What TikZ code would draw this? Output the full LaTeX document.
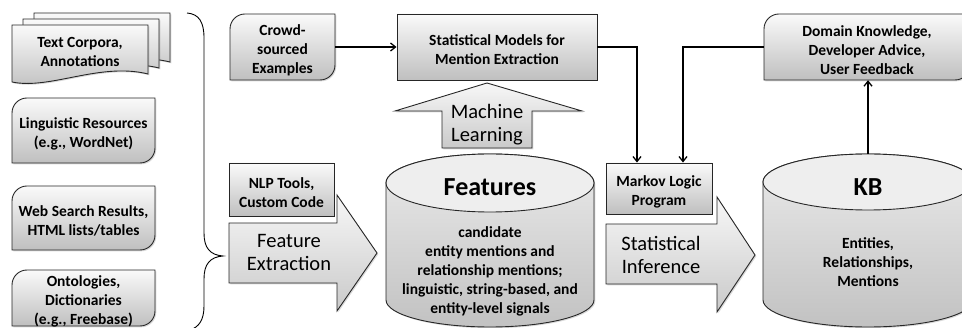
\documentclass[tikz,border=0pt]{standalone}
\usepackage{fontspec}
\setmainfont{Carlito}
\usetikzlibrary{arrows.meta,positioning,fit,shadows}

% box with rounded top-left and bottom-right corners: name, x1, y1, x2, y2, text
\newcommand\softbox[6]{%
  \path[paint] (#2,#5) -- (#2,#3+15) arc[start angle=180,end angle=90,radius=15pt]
    -- (#4,#3) -- (#4,#5-15) arc[start angle=0,end angle=-90,radius=15pt] -- cycle;
  \node[frame,fit={(#2,#3) (#4,#5)}] (#1) {};
  \node[boxtext] at ([yshift=-3pt]#1.center) {#6};}
% plain square box: name, x1, y1, x2, y2, text
\newcommand\plainbox[6]{%
  \node[frame,paint,fit={(#2,#3) (#4,#5)}] (#1) {};
  \node[boxtext] at ([yshift=-3pt]#1.center) {#6};}
% one sheet of the document stack, shifted by (#1,#2)
\newcommand\docsheet[2]{%
  \path[paint,shift={(#1,#2)}] (12,25) -- (148,25) -- (148,74)
    .. controls (100,62) and (50,90) .. (12,82) -- cycle;}

\begin{document}
\begin{tikzpicture}[x=1pt,y=-1pt,
  frame/.style={inner sep=0pt},
  boxtext/.style={inner sep=0pt,align=center,font=\fontsize{15.5}{19}\selectfont\bfseries},
  paint/.style={draw=black!85,line width=0.9pt,top color=gray!4,bottom color=gray!50,
    drop shadow={shadow xshift=1.3pt,shadow yshift=-1.3pt,opacity=0.3}},
  blockpaint/.style={paint,top color=gray!6,bottom color=gray!42},
  cylpaint/.style={paint,top color=gray!16,bottom color=gray!48},
  capfill/.style={draw=black!85,line width=0.9pt,fill=gray!13},
  bigtext/.style={align=center,font=\fontsize{20.5}{23}\selectfont},
  title/.style={font=\fontsize{26}{30}\selectfont\bfseries},
  link/.style={-{Straight Barb[length=5pt,width=8pt]},line width=1.3pt}
]
\useasboundingbox (0,0) rectangle (962,328);
\clip (0,0) rectangle (962,328);

% input sources on the left
\docsheet{22}{-12}
\docsheet{11}{-6}
\docsheet{0}{0}
\node[boxtext] (corpora) at (80,52) {Text Corpora,\\Annotations};
\softbox{ling}{12}{98}{155}{163}{Linguistic Resources\\(e.g., WordNet)}
\softbox{web}{12}{186}{155}{250}{Web Search Results,\\HTML lists/tables}
\softbox{onto}{12}{270}{155}{326}{Ontologies,\\Dictionaries\\(e.g., Freebase)}

\draw[line width=0.9pt] (187,13) .. controls (199,14) and (204,22) .. (204,38) -- (204,233)
  .. controls (204,248) and (210,255) .. (223,256)
  .. controls (210,257) and (204,264) .. (204,279) -- (204,306)
  .. controls (204,320) and (199,327) .. (190,330);

% top row
\softbox{crowd}{230}{14}{335}{80}{Crowd-\\sourced\\Examples}
\plainbox{stats}{397}{14}{597}{80}{Statistical Models for\\Mention Extraction}
\softbox{domain}{764}{14}{970}{80}{Domain Knowledge,\\Developer Advice,\\User Feedback}

% block arrows
\path[blockpaint] (442,148) -- (442,111) -- (395,111) -- (487,83) -- (582,111) -- (532,111) -- (532,148) -- cycle;
\node[bigtext] (learn) at (487,125) {Machine\\Learning};
\path[blockpaint] (229,223) -- (337,223) -- (337,195) -- (377,253) -- (337,311) -- (337,283) -- (229,283) -- cycle;
\node[bigtext] (featx) at (289,253) {Feature\\Extraction};
\path[blockpaint] (606,224) -- (717,224) -- (717,197) -- (755,255) -- (717,312) -- (717,284) -- (606,284) -- cycle;
\node[bigtext] (infer) at (661,255) {Statistical\\Inference};

\plainbox{nlp}{229}{163}{334}{216}{NLP Tools,\\Custom Code}
\plainbox{markov}{606}{163}{712}{214}{Markov Logic\\Program}

% feature store
\path[cylpaint] (386,183) -- (386,300) arc[start angle=180,end angle=360,x radius=104pt,y radius=27pt]
  -- (594,183) arc[start angle=0,end angle=180,x radius=104pt,y radius=29pt] -- cycle;
\path[capfill] (490,183) ellipse[x radius=104pt,y radius=29pt];
\node[title] (feat) at (490,187) {Features};
\node[boxtext] (featbody) at (490,271) {candidate\\entity mentions and\\relationship mentions;\\linguistic, string-based, and\\entity-level signals};

% knowledge base
\path[cylpaint] (763,182) -- (763,300) arc[start angle=180,end angle=360,x radius=105pt,y radius=27pt]
  -- (973,182) arc[start angle=0,end angle=180,x radius=105pt,y radius=28pt] -- cycle;
\path[capfill] (868,182) ellipse[x radius=105pt,y radius=28pt];
\coordinate (kbtop) at (868,154);
\node[title] (kb) at (868,187) {KB};
\node[boxtext] (kbbody) at (868,262) {Entities,\\Relationships,\\Mentions};

% connectors
\draw[link] (crowd) -- (stats);
\draw[link] (stats.east) -| ([xshift=-22pt]markov.north);
\draw[link] (domain.west) -| ([xshift=24pt]markov.north);
\draw[link] (kbtop) -- (kbtop |- domain.south);
\end{tikzpicture}
\end{document}
